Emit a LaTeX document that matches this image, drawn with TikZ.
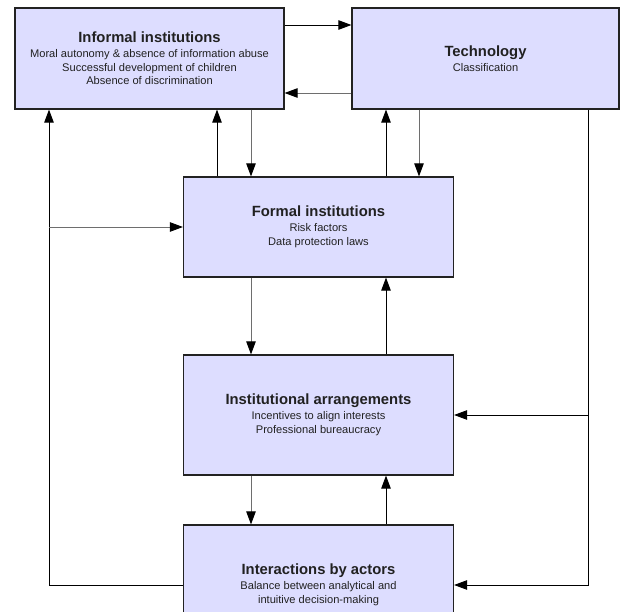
\documentclass[tikz,border=0pt]{standalone}
\usepackage{fontspec}
\setmainfont{Liberation Sans}
\usetikzlibrary{arrows.meta}
\tikzset{>={Triangle[length=13pt,width=9.5pt,color=black]}}
\definecolor{boxfill}{HTML}{DDDDFF}
\definecolor{boxline}{HTML}{222222}
\definecolor{lnk}{HTML}{6E6E6E}
\newcommand{\ttl}[1]{{\fontsize{14.8}{16}\selectfont\bfseries #1}}
\tikzset{
  blk/.style={draw=boxline,fill=boxfill,line width=1.2pt,inner sep=0pt,
    align=center,text=black!87,font=\fontsize{11.1}{13.5}\selectfont},
  lnkb/.style={draw=black,line width=0.9pt},
  lnkg/.style={draw=lnk,line width=0.9pt}
}

\begin{document}
\begin{tikzpicture}[x=1pt,y=-1pt]
\useasboundingbox (0,0) rectangle (621,612);
\fill[white] (0,0) rectangle (621,612);
% boxes
\node[blk,minimum width=269pt,minimum height=101pt] (informal) at (149.5,58.5)
  {\ttl{Informal institutions}\\[1.5pt] Moral autonomy \& absence of information abuse\\
   Successful development of children\\ Absence of discrimination};
\node[blk,minimum width=267pt,minimum height=101pt] (tech) at (485.5,58.5)
  {\ttl{Technology}\\[1.5pt] Classification};
\node[blk,minimum width=270pt,minimum height=100pt] (formal) at (318.5,227)
  {\ttl{Formal institutions}\\[1.5pt] Risk factors\\ Data protection laws};
\node[blk,minimum width=270pt,minimum height=120pt] (inst) at (318.5,415)
  {\ttl{Institutional arrangements}\\[1.5pt] Incentives to align interests\\ Professional bureaucracy};
\node[blk,minimum width=270pt,minimum height=120pt] (inter) at (318.5,585)
  {\ttl{Interactions by actors}\\[1.5pt] Balance between analytical and\\ intuitive decision-making};
% columns and rows of the connectors
\coordinate (cl) at (49,0);
\coordinate (ca) at (217,0);
\coordinate (cb) at (251,0);
\coordinate (cc) at (386,0);
\coordinate (cd) at (419,0);
\coordinate (cr) at (588,0);
\coordinate (r1) at (0,25);
\coordinate (r2) at (0,93);
% top row
\draw[lnkb,->] (informal.east |- r1) -- (tech.west |- r1);
\draw[lnkg,->] (tech.west |- r2) -- (informal.east |- r2);
% middle column
\draw[lnkb,->] (formal.north -| ca) -- (informal.south -| ca);
\draw[lnkg,->] (informal.south -| cb) -- (formal.north -| cb);
\draw[lnkb,->] (formal.north -| cc) -- (tech.south -| cc);
\draw[lnkg,->] (tech.south -| cd) -- (formal.north -| cd);
\draw[lnkg,->] (formal.south -| cb) -- (inst.north -| cb);
\draw[lnkb,->] (inst.north -| cc) -- (formal.south -| cc);
\draw[lnkg,->] (inst.south -| cb) -- (inter.north -| cb);
\draw[lnkb,->] (inter.north -| cc) -- (inst.south -| cc);
% left loop
\draw[lnkb,->] (inter.west) -- (inter.west -| cl) -- (informal.south -| cl);
\draw[lnkg,->] (cl |- formal.west) -- (formal.west);
% right loop
\draw[lnkb,->] (tech.south -| cr) -- (cr |- inter.east) -- (inter.east);
\draw[lnkb,->] (cr |- inst.east) -- (inst.east);
\end{tikzpicture}
\end{document}
